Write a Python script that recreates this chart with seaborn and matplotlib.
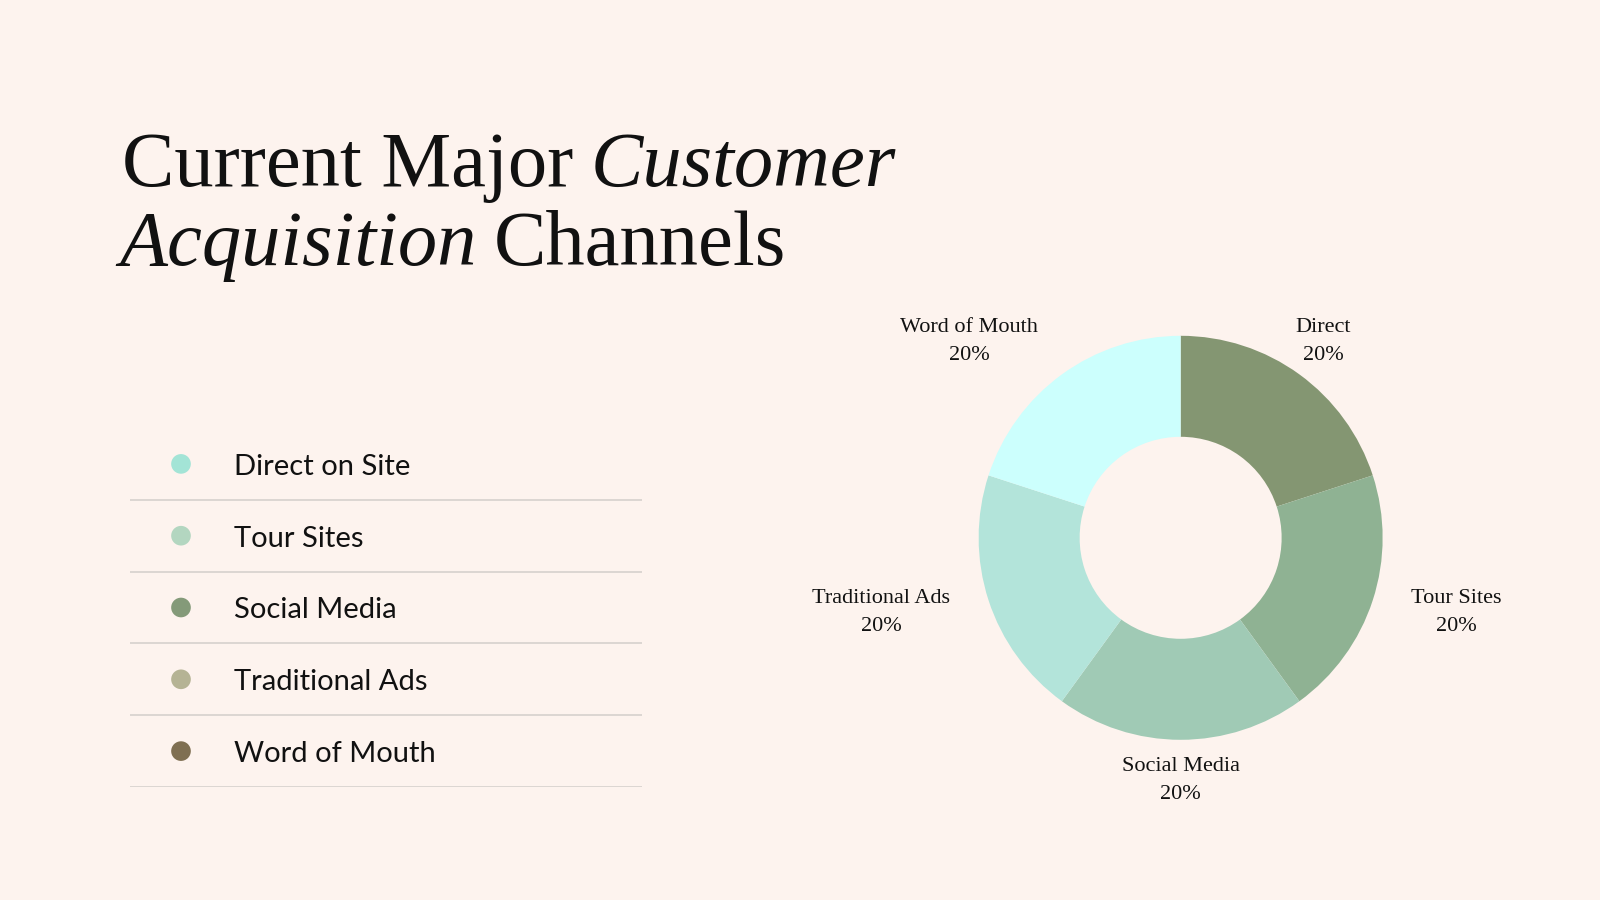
import matplotlib
matplotlib.use("Agg")
import matplotlib.pyplot as plt
import numpy as np
import pandas as pd
import seaborn as sns

# Dados do grafico
channels = ["Direct", "Tour Sites", "Social Media", "Traditional Ads", "Word of Mouth"]
shares = [20, 20, 20, 20, 20]
slice_colors = ["#849672", "#8fb293", "#a0cab5", "#b3e4da", "#ccfffd"]

legend_items = ["Direct on Site", "Tour Sites", "Social Media", "Traditional Ads", "Word of Mouth"]
legend_colors = ["#a3e4d6", "#b3d6c0", "#849a79", "#b5b394", "#7f6f52"]

title_line1 = [("Current Major", "normal"), ("Customer", "italic")]
title_line2 = [("Acquisition", "italic"), ("Channels", "normal")]

bg = "#fdf3ee"
ink = "#111111"

sns.set_theme(style="white")
plt.rcParams["font.family"] = ["Liberation Serif", "DejaVu Serif"]

fig = plt.figure(figsize=(16, 9), dpi=100)
fig.patch.set_facecolor(bg)

# Titulo com partes em italico
renderer = fig.canvas.get_renderer()
title_size = 56.5


def draw_line(parts, x0, y):
    x = x0
    for word, style in parts:
        t = fig.text(x, y, word, fontsize=title_size, style=style, color=ink,
                     ha="left", va="baseline", family=["Liberation Serif", "DejaVu Serif"])
        bb = t.get_window_extent(renderer=renderer)
        x = (bb.x1 + 0.22 * title_size * 100 / 72) / fig.bbox.width


draw_line(title_line1, 122 / 1600, 1 - 186 / 900)
draw_line(title_line2, 119 / 1600, 1 - 265 / 900)

# Legenda com seaborn
ax_leg = fig.add_axes([130 / 1600, 113 / 900, 512 / 1600, 359 / 900])
ax_leg.set_facecolor(bg)
leg_df = pd.DataFrame({"x": [0.0996] * len(legend_items),
                       "y": np.arange(len(legend_items)),
                       "item": legend_items})
sns.scatterplot(data=leg_df, x="x", y="y", hue="item", palette=legend_colors,
                s=200, edgecolor="none", legend=False, ax=ax_leg)
for i, name in enumerate(legend_items):
    ax_leg.text(0.203, i + 0.04, name, fontsize=21, color=ink, va="center", ha="left",
                family=["Lato", "DejaVu Sans"])
    ax_leg.axhline(i + 0.5, color="#d9d3cf", lw=1.3)
ax_leg.set_xlim(0, 1)
ax_leg.set_ylim(len(legend_items) - 0.5, -0.5)
ax_leg.axis("off")

# Grafico de rosca
ax = fig.add_axes([0.5504, 0.0691, 0.375, 0.6667])
ax.set_facecolor(bg)
labels = [f"{c}\n{s}%" for c, s in zip(channels, shares)]
wedges, texts = ax.pie(shares, colors=slice_colors, startangle=90, counterclock=False,
                       radius=1.01, labels=labels, labeldistance=1.2,
                       wedgeprops=dict(width=0.505, edgecolor="none"),
                       textprops=dict(fontsize=16, color=ink, linespacing=1.65,
                                      va="center", multialignment="center"))
texts[0].set_ha("center")
texts[2].set_ha("center")
ax.set_xlim(-1.5, 1.5)
ax.set_ylim(-1.5, 1.5)
ax.set_aspect("equal")
ax.axis("off")

fig.savefig("out.png", dpi=100, facecolor=bg)
